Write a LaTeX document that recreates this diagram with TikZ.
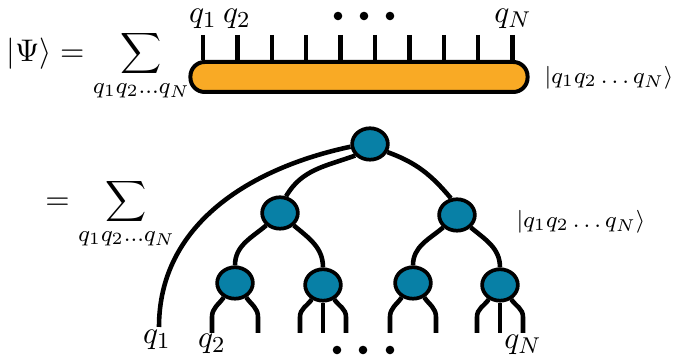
\documentclass[tikz,border=0pt]{standalone}
\usetikzlibrary{shapes.geometric}
\definecolor{mpsorange}{RGB}{249,170,37}
\definecolor{ttnblue}{RGB}{8,128,166}
\begin{document}
\begin{tikzpicture}[x=0.35pt,y=0.35pt]
		\tikzstyle{TN}=[ellipse,draw=black,fill=ttnblue,line width=1.3pt,minimum width=12.5pt,minimum height=11pt,inner sep=0pt]
		\tikzstyle{MPS}=[rectangle,rounded corners=5pt,draw=black,fill=mpsorange,line width=1.4pt,minimum width=118pt,minimum height=10.5pt]
		\tikzstyle{lbl}=[inner sep=0pt,font=\fontsize{11}{13}\selectfont]
		\tikzstyle{bigsum}=[inner sep=0pt,font=\fontsize{11.2}{13}\selectfont]
		\tikzstyle{ket}=[inner sep=0pt,font=\fontsize{8.5}{10}\selectfont]
		\tikzstyle{dot}=[circle,fill=black,inner sep=0pt,minimum size=3pt]
		\tikzstyle{wire}=[line width=1.6pt]
		\useasboundingbox (0,0) rectangle (687,-358);

		% first line: MPS
		\node[bigsum] (psi) at (98,-66) {$\displaystyle |\Psi\rangle = \sum_{q_1q_2\ldots q_N}$};
		\node[MPS] (mps) at (359,-77) {};
		\node[ket] (ket1) at (609,-78) {$|q_1q_2\ldots q_N\rangle$};
		\foreach \i in {1,...,10} {
			\coordinate (top-\i) at ({203+34.4*(\i-1)},-35);
			\draw[wire] (top-\i) -- (top-\i |- mps.north);
		}
		\node[lbl] (tq1) at (203,-19) {$q_1$};
		\node[lbl] (tq2) at (237,-19) {$q_2$};
		\node[lbl] (tqN) at (513,-19) {$q_N$};
		\node[dot] (tdot1) at (338,-16) {};
		\node[dot] (tdot2) at (364,-16) {};
		\node[dot] (tdot3) at (390,-16) {};

		% second line: tree
		\node[bigsum] (sum2) at (110,-214) {$\displaystyle = \sum_{q_1q_2\ldots q_N}$};
		\node[ket] (ket2) at (581,-222) {$|q_1q_2\ldots q_N\rangle$};

		\begin{scope}
		\node[TN] (root) at (370,-144) {};
		\node[TN] (L)  at (280,-213) {};
		\node[TN] (R)  at (457,-215) {};
		\node[TN] (LL) at (235,-283) {};
		\node[TN] (LR) at (323,-285) {};
		\node[TN] (RL) at (413,-283) {};
		\node[TN] (RR) at (500,-285) {};
		\coordinate (e1) at (159,-327);
		\end{scope}

		\path[wire]
		(root.188) edge[out=192,in=90] (e1)
		(root.218) edge[out=200,in=60] (L.70)
		(root.-25) edge[out=-20,in=130] (R.110)
		(L.222) edge[out=220,in=90] (LL.north)
		(L.-42) edge[out=-40,in=90] (LR.north)
		(R.222) edge[out=220,in=90] (RL.north)
		(R.-42) edge[out=-40,in=90] (RR.north)
		;

		\foreach \n/\x in {LL/235,LR/323,RL/413,RR/500} {
			\coordinate (\n-a) at (\x-23,-333);
			\coordinate (\n-b) at (\x+23,-333);
			\draw[wire] (\n-a) -- ++(0,16) to[out=90,in=235] (\n.232);
			\draw[wire] (\n-b) -- ++(0,16) to[out=90,in=-55] (\n.-52);
		}
		\foreach \n/\x in {LR/323,RR/500} {
			\coordinate (\n-m) at (\x,-333);
			\draw[wire] (\n-m) -- (\n.south);
		}

		\node[lbl] (bq1) at (157,-340) {$q_1$};
		\node[lbl] (bq2) at (212,-344) {$q_2$};
		\node[lbl] (bqN) at (523,-345) {$q_N$};
		\node[dot] (bdot1) at (337,-350) {};
		\node[dot] (bdot2) at (363,-350) {};
		\node[dot] (bdot3) at (390,-350) {};
\end{tikzpicture}
\end{document}
